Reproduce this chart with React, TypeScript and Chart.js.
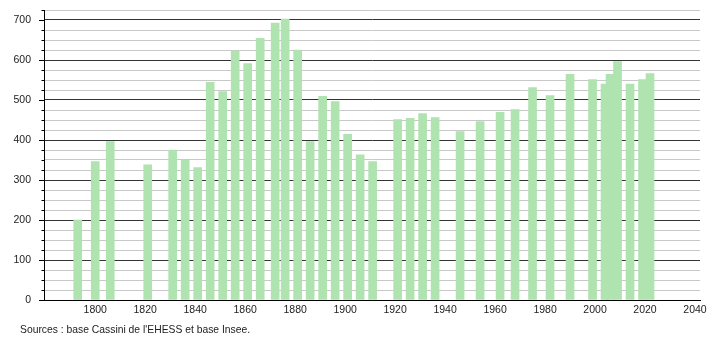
import React, { useEffect, useRef } from "react";
import { Chart, registerables } from "chart.js";

Chart.register(...registerables);

const years = [
  1793, 1800, 1806, 1821, 1831, 1836, 1841, 1846, 1851, 1856, 1861, 1866, 1872, 1876,
  1881, 1886, 1891, 1896, 1901, 1906, 1911, 1921, 1926, 1931, 1936, 1946, 1954, 1962,
  1968, 1975, 1982, 1990, 1999, 2004, 2006, 2009, 2014, 2019, 2022,
];
const population = [
  200, 346, 396, 338, 375, 350, 331, 544, 521, 622, 591, 654, 692, 702,
  625, 396, 509, 496, 414, 363, 346, 451, 454, 466, 456, 421, 446, 469,
  476, 531, 511, 564, 551, 540, 564, 596, 540, 551, 566,
];
const xTickLabels = [1800, 1820, 1840, 1860, 1880, 1900, 1920, 1940, 1960, 1980, 2000, 2020, 2040];
const yMajorTicks = [0, 100, 200, 300, 400, 500, 600, 700];
const sourceText = "Sources : base Cassini de l'EHESS et base Insee.";

const yTickMarks = {
  id: "yTickMarks",
  afterDraw(chart: any) {
    const { ctx } = chart;
    const y = chart.scales.y;
    const left = chart.chartArea.left;
    ctx.save();
    ctx.strokeStyle = "#000";
    ctx.lineWidth = 1;
    y.ticks.forEach((t: any) => {
      const py = Math.round(y.getPixelForValue(t.value)) + 0.5;
      const len = t.value % 100 === 0 ? 5 : 2.5;
      ctx.beginPath();
      ctx.moveTo(left - len, py);
      ctx.lineTo(left, py);
      ctx.stroke();
    });
    ctx.restore();
  },
};

export default function App() {
  const ref = useRef<HTMLCanvasElement | null>(null);
  useEffect(() => {
    if (!ref.current) return;
    const font = { family: "'Liberation Sans', Arial, sans-serif", size: 10.5 };
    const chart = new Chart(ref.current, {
      type: "bar",
      data: {
        datasets: [
          {
            data: years.map((yr, i) => ({ x: yr, y: population[i] })),
            backgroundColor: "#afe3af",
            borderWidth: 0,
            barThickness: 8,
          },
        ],
      },
      options: {
        responsive: false,
        animation: false,
        layout: { padding: { top: 10, right: 10, left: 0, bottom: 0 } },
        plugins: { legend: { display: false }, tooltip: { enabled: false } },
        scales: {
          x: {
            type: "linear",
            offset: false,
            min: 1779.5,
            max: 2042,
            grid: { display: false, drawTicks: false, offset: false },
            border: { display: true, color: "#000", width: 1 },
            afterBuildTicks: (scale: any) => {
              scale.ticks = xTickLabels.map((v) => ({ value: v }));
            },
            ticks: {
              autoSkip: false,
              maxRotation: 0,
              padding: 4,
              color: "#222",
              font,
              callback: (v: any) => String(v),
            },
            afterFit: (scale: any) => {
              scale.height = 40;
              scale.paddingLeft = 0;
              scale.paddingRight = 0;
            },
          },
          y: {
            min: 0,
            max: 725,
            grid: {
              drawTicks: false,
              color: (c: any) => (c.tick && c.tick.value % 100 === 0 ? "#333" : "#c8c8c8"),
              lineWidth: 1,
            },
            border: { display: true, color: "#000", width: 1 },
            ticks: {
              stepSize: 25,
              autoSkip: false,
              padding: 13,
              color: "#222",
              font,
              callback: (v: any) => (yMajorTicks.includes(Number(v)) ? String(v) : ""),
            },
            afterFit: (scale: any) => {
              scale.width = 44;
              scale.paddingTop = 0;
              scale.paddingBottom = 0;
            },
          },
        },
      },
      plugins: [yTickMarks],
    });
    return () => chart.destroy();
  }, []);
  return (
    <div style={{ position: "fixed", left: 0, top: 0, width: 710, height: 340, background: "#fff" }}>
      <canvas ref={ref} width={710} height={340} style={{ display: "block" }} />
      <div
        style={{
          position: "absolute",
          left: 20,
          top: 323,
          fontFamily: "'Liberation Sans', Arial, sans-serif",
          fontSize: 11,
          lineHeight: "13px",
          color: "#222",
          whiteSpace: "nowrap",
          transform: "scaleX(0.94)",
          transformOrigin: "left top",
        }}
      >
        {sourceText}
      </div>
    </div>
  );
}
